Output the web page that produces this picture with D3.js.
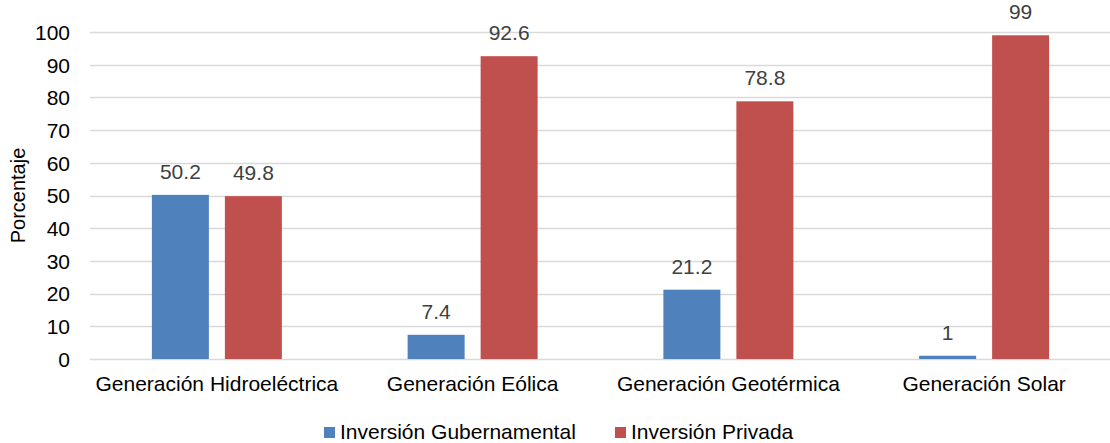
<!DOCTYPE html>
<html>
<head>
<meta charset="utf-8">
<script src="https://cdn.jsdelivr.net/npm/d3@7"></script>
<style>
  html, body { margin: 0; padding: 0; background: #fff; }
  svg { display: block; font-family: "Liberation Sans", Arial, sans-serif; }
</style>
</head>
<body>
<svg id="chart" width="1110" height="443"></svg>
<script>
// Energy generation investment split by source
const categories = ["Generación Hidroeléctrica", "Generación Eólica", "Generación Geotérmica", "Generación Solar"];
const seriesNames = ["Inversión Gubernamental", "Inversión Privada"];
const gubernamental = [50.2, 7.4, 21.2, 1];
const privada = [49.8, 92.6, 78.8, 99];
const yTicks = [0, 10, 20, 30, 40, 50, 60, 70, 80, 90, 100];
const colors = ["#4F81BD", "#C0504D"];

const svg = d3.select("#chart");
const width = 1110;
const fontSize = 21;

// category bands run slightly past the right edge of the canvas
const x = d3.scaleBand()
  .domain(categories)
  .range([89, 1112]);

const y = d3.scaleLinear()
  .domain([0, 100])
  .range([359, 32]);

const barW = 57, gap = 16;
const groupW = barW * 2 + gap;

// gridlines
svg.append("g")
  .selectAll("line")
  .data(yTicks)
  .join("line")
  .attr("x1", 90)
  .attr("x2", width)
  .attr("y1", d => Math.round(y(d)) + 0.5)
  .attr("y2", d => Math.round(y(d)) + 0.5)
  .attr("stroke", "#d9d9d9")
  .attr("stroke-width", 1.3);

// y axis labels
const yAxis = d3.axisLeft(y).tickValues(yTicks).tickSize(0).tickPadding(0);
const gy = svg.append("g").attr("transform", "translate(70,0)").call(yAxis);
gy.select(".domain").remove();
gy.selectAll("text")
  .attr("font-size", fontSize)
  .attr("fill", "#000")
  .attr("font-family", "Liberation Sans, Arial, sans-serif")
  .attr("dy", "0.35em");

// y axis title
svg.append("text")
  .attr("transform", `translate(25,${(32 + 359) / 2}) rotate(-90)`)
  .attr("text-anchor", "middle")
  .attr("font-size", 20)
  .attr("fill", "#000")
  .text("Porcentaje");

// bars
const rows = categories.map((c, i) => ({ cat: c, vals: [gubernamental[i], privada[i]] }));
const groups = svg.append("g").selectAll("g")
  .data(rows)
  .join("g")
  .attr("transform", d => `translate(${x(d.cat) + x.bandwidth() / 2 - groupW / 2},0)`);

groups.selectAll("rect")
  .data(d => d.vals.map((v, j) => ({ v, j })))
  .join("rect")
  .attr("x", d => d.j * (barW + gap))
  .attr("width", barW)
  .attr("y", d => y(d.v))
  .attr("height", d => y(0) - y(d.v))
  .attr("fill", d => colors[d.j]);

groups.selectAll("text.val")
  .data(d => d.vals.map((v, j) => ({ v, j })))
  .join("text")
  .attr("class", "val")
  .attr("x", d => d.j * (barW + gap) + barW / 2)
  .attr("y", d => y(d.v) - 16)
  .attr("text-anchor", "middle")
  .attr("font-size", fontSize)
  .attr("fill", "#404040")
  .text(d => d.v);

// x axis labels
const xAxis = d3.axisBottom(x).tickSize(0).tickPadding(0);
const gx = svg.append("g").attr("transform", `translate(0,${y(0)})`).call(xAxis);
gx.select(".domain").remove();
gx.selectAll("text")
  .attr("font-size", fontSize)
  .attr("fill", "#000")
  .attr("font-family", "Liberation Sans, Arial, sans-serif")
  .attr("dy", "0")
  .attr("y", 32);

// legend
const legendX = [324, 615];
const legend = svg.append("g").selectAll("g")
  .data(seriesNames)
  .join("g")
  .attr("transform", (d, i) => `translate(${legendX[i]},427)`);
legend.append("rect").attr("width", 11).attr("height", 11).attr("fill", (d, i) => colors[i]);
legend.append("text")
  .attr("x", 16).attr("y", 12)
  .attr("font-size", fontSize)
  .attr("fill", "#000")
  .text(d => d);
</script>
</body>
</html>
